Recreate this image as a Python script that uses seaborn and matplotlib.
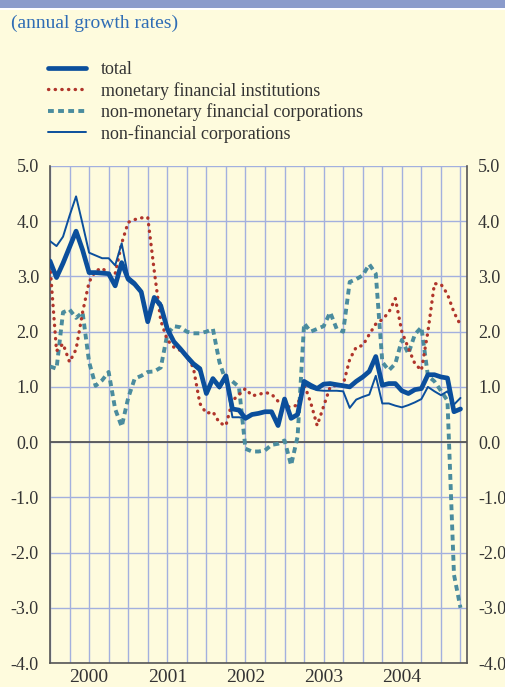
"""
Tasas de crecimiento anual de acciones cotizadas emitidas,
por sector emisor (datos mensuales, ene 2000 - abr 2005).
"""

import matplotlib
matplotlib.use("Agg")

import matplotlib.pyplot as plt
import numpy as np
import pandas as pd
import seaborn as sns
from matplotlib.lines import Line2D
from matplotlib.patches import Rectangle

# Meses desde enero de 2000 (0 = ene 2000)
meses = np.arange(64)

total = [
    3.28, 2.98, 3.24, 3.53, 3.82, 3.48, 3.07, 3.07, 3.06, 3.05, 2.83, 3.25,
    2.95, 2.86, 2.72, 2.18, 2.62, 2.47, 2.05, 1.82, 1.69, 1.55, 1.42, 1.33,
    0.88, 1.15, 1.00, 1.20, 0.60, 0.58, 0.43, 0.50, 0.52, 0.55, 0.55, 0.30,
    0.78, 0.43, 0.50, 1.10, 1.03, 0.97, 1.05, 1.06, 1.04, 1.02, 1.00, 1.10,
    1.18, 1.28, 1.55, 1.03, 1.06, 1.06, 0.93, 0.88, 0.95, 0.97, 1.22, 1.22,
    1.18, 1.16, 0.55, 0.60,
]

instituciones_monetarias = [
    3.20, 1.65, 1.78, 1.45, 1.68, 2.35, 2.90, 3.10, 3.15, 3.05, 3.05, 3.60,
    3.98, 4.03, 4.06, 4.07, 3.10, 2.20, 1.85, 1.72, 1.66, 1.55, 1.35, 0.70,
    0.52, 0.55, 0.35, 0.30, 0.75, 0.86, 0.97, 0.84, 0.86, 0.90, 0.87, 0.74,
    0.64, 0.64, 0.67, 1.05, 0.72, 0.30, 0.65, 1.00, 1.03, 1.04, 1.50, 1.72,
    1.75, 1.95, 2.14, 2.22, 2.35, 2.60, 2.00, 1.70, 1.42, 1.30, 2.00, 2.87,
    2.86, 2.68, 2.35, 2.12,
]

no_monetarias = [
    1.37, 1.33, 2.35, 2.40, 2.25, 2.35, 1.45, 1.02, 1.12, 1.27, 0.60, 0.28,
    0.80, 1.15, 1.20, 1.27, 1.28, 1.35, 1.95, 2.10, 2.08, 2.00, 1.97, 1.97,
    2.00, 2.05, 1.45, 1.10, 1.10, 1.00, -0.12, -0.17, -0.17, -0.15, -0.05,
    -0.03, 0.03, -0.42, 0.10, 2.15, 2.00, 2.05, 2.10, 2.35, 2.05, 2.00, 2.90,
    2.95, 3.02, 3.22, 3.05, 1.45, 1.30, 1.42, 1.85, 1.60, 1.95, 2.08, 1.20,
    1.10, 0.93, 0.75, -2.40, -3.00,
]

no_financieras = [
    3.64, 3.55, 3.72, 4.10, 4.45, 3.95, 3.43, 3.38, 3.33, 3.33, 3.20, 3.60,
    3.00, 2.90, 2.75, 2.25, 2.60, 2.52, 2.08, 1.80, 1.70, 1.52, 1.38, 1.28,
    0.90, 1.12, 0.97, 1.15, 0.45, 0.45, 0.43, 0.50, 0.52, 0.55, 0.55, 0.30,
    0.75, 0.42, 0.48, 1.05, 0.98, 0.94, 0.93, 0.93, 0.93, 0.92, 0.62, 0.77,
    0.82, 0.86, 1.20, 0.70, 0.70, 0.66, 0.63, 0.67, 0.72, 0.78, 1.00, 0.92,
    0.85, 0.92, 0.68, 0.80,
]

etiquetas_anios = ["2000", "2001", "2002", "2003", "2004"]
posiciones_anios = [6, 18, 30, 42, 54]

FONDO = "#FEFBDD"
AZUL = "#0B4F9C"
ROJO = "#B0352B"
TEAL = "#4A8C9E"
REJILLA = "#A3B0DE"
TEXTO = "#333333"

ESTILO_PUNTOS = (0, (0.1, 1.9))
ESTILO_GUIONES = (0, (1.5, 1.1))

datos = pd.DataFrame(
    {
        "mes": meses,
        "total": total,
        "mfi": instituciones_monetarias,
        "no_mfi": no_monetarias,
        "nfc": no_financieras,
    }
)

sns.set_style("white")
plt.rcParams["font.family"] = ["Liberation Serif", "DejaVu Serif"]

fig = plt.figure(figsize=(5.05, 6.87), dpi=100, facecolor=FONDO)
ax = fig.add_axes([50 / 505, 1 - 663 / 687, 417 / 505, 497 / 687])
ax.set_facecolor(FONDO)

# Banda superior
fig.patches.append(
    Rectangle((0, 1 - 8 / 687), 1, 8 / 687, transform=fig.transFigure,
              facecolor="#8A9BCB", edgecolor="none", zorder=0)
)
fig.patches.append(
    Rectangle((0, 1 - 10 / 687), 1, 2 / 687, transform=fig.transFigure,
              facecolor="white", edgecolor="none", zorder=0)
)

sns.lineplot(data=datos, x="mes", y="no_mfi", color=TEAL, lw=2.8,
             ax=ax, zorder=3)
ax.lines[-1].set_linestyle(ESTILO_GUIONES)
sns.lineplot(data=datos, x="mes", y="mfi", color=ROJO, lw=2.4,
             ax=ax, zorder=4)
ax.lines[-1].set_linestyle(ESTILO_PUNTOS)
ax.lines[-1].set_dash_capstyle("round")
sns.lineplot(data=datos, x="mes", y="total", color=AZUL, lw=3.4,
             ax=ax, zorder=5)
sns.lineplot(data=datos, x="mes", y="nfc", color=AZUL, lw=1.4,
             ax=ax, zorder=6)

ax.axhline(0, color="#555555", lw=1.3, zorder=2)

ax.set_xlim(0, 64)
ax.set_ylim(-4, 5)
ax.set_xlabel("")
ax.set_ylabel("")

ax.set_xticks(np.arange(0, 64, 3))
ax.set_xticklabels([])
# desplazamiento minimo: matplotlib quita menores que coinciden con mayores
ax.set_xticks([p + 0.01 for p in posiciones_anios], minor=True)
ax.set_xticklabels(etiquetas_anios, minor=True)
ax.tick_params(axis="x", which="major", direction="out", length=5,
               width=1, color="#555555")
ax.tick_params(axis="x", which="minor", length=0, pad=4,
               labelsize=14, labelcolor=TEXTO)

ax.set_yticks(np.arange(-4, 6))
ax.set_yticklabels([f"{v:.1f}" for v in np.arange(-4, 6)])
ax.tick_params(axis="y", length=0, labelsize=13, labelcolor=TEXTO,
               labelleft=True, labelright=True, pad=8)

ax.grid(True, which="major", color=REJILLA, lw=1.0)
for lado in ["left", "right", "bottom"]:
    ax.spines[lado].set_color("#555555")
    ax.spines[lado].set_linewidth(1.2)
ax.spines["top"].set_visible(False)

fig.text(11 / 505, 1 - 23 / 687, "(annual growth rates)",
         color="#2F6DB5", fontsize=14, va="center", ha="left")

manejadores = [
    Line2D([], [], color=AZUL, lw=3.4),
    Line2D([], [], color=ROJO, lw=2.4, linestyle=ESTILO_PUNTOS,
           dash_capstyle="round"),
    Line2D([], [], color=TEAL, lw=2.8, linestyle=ESTILO_GUIONES),
    Line2D([], [], color=AZUL, lw=1.4),
]
nombres = [
    "total",
    "monetary financial institutions",
    "non-monetary financial corporations",
    "non-financial corporations",
]
fig.legend(manejadores, nombres, loc="upper left",
           bbox_to_anchor=(41 / 505, 1 - 54 / 687), frameon=False,
           fontsize=13, handlelength=2.1, handletextpad=0.8,
           labelspacing=0.2, labelcolor=TEXTO, borderaxespad=0)

fig.savefig("out.png", dpi=100, facecolor=FONDO)
